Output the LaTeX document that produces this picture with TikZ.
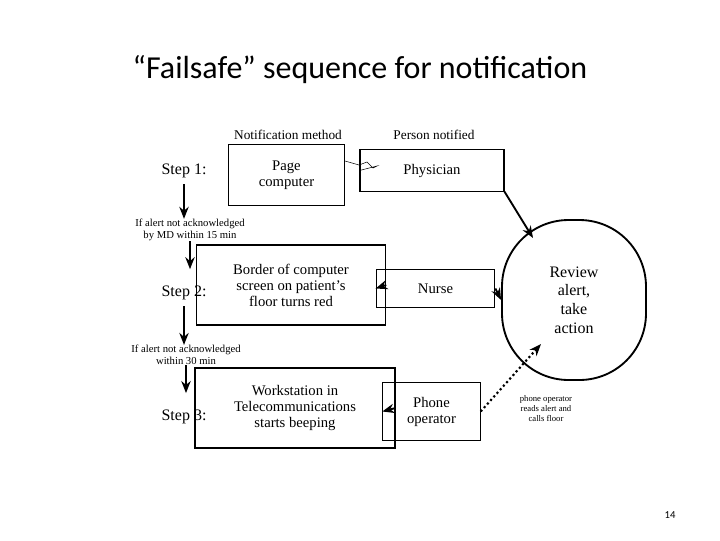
\documentclass[tikz,border=0pt]{standalone}
\usepackage{fontspec}
\setmainfont{Liberation Serif}
\newfontfamily\titlefont{Carlito}
\usetikzlibrary{arrows.meta}
\begin{document}
\begin{tikzpicture}[x=0.75pt,y=-0.75pt,
 box/.style={draw,thick,align=center,inner sep=0pt,font=\fontsize{11}{12}\selectfont},
 lab/.style={align=center,font=\fontsize{8}{9}\selectfont,inner sep=0pt},
 steplab/.style={font=\fontsize{12}{13}\selectfont,inner sep=0pt},
 arr/.style={line width=1.4pt,-{Stealth[length=9pt,width=7pt]}}]
\useasboundingbox (0,0) rectangle (720,540);
\node[font=\titlefont\fontsize{24}{28}\selectfont] (title) at (360,70) {“Failsafe” sequence for notification};
\node[lab,font=\fontsize{10}{11}\selectfont] (h1) at (288,135) {Notification method};
\node[lab,font=\fontsize{10}{11}\selectfont] (h2) at (434,135) {Person notified};
\node[box,minimum width=87,minimum height=46] (pc) at (286.5,175) {Page\\computer};
\node[box,minimum width=108,minimum height=31] (ph) at (432,170.5) {Physician};
\node[box,minimum width=142,minimum height=60] (bd) at (291,285) {Border of computer\\screen on patient’s\\floor turns red};
\node[box,minimum width=89,minimum height=29] (nu) at (435.5,288.5) {Nurse};
\node[box,minimum width=150,minimum height=60] (ws) at (295,408) {Workstation in\\Telecommunications\\starts beeping};
\node[box,minimum width=73,minimum height=43] (po) at (431.5,411.5) {Phone\\operator};
\node[draw,line width=1.4pt,rounded corners=50,minimum width=108,minimum height=120,align=center,inner sep=0pt,font=\fontsize{12}{14}\selectfont] (rv) at (574,300) {Review\\alert,\\take\\action};
\node[steplab] (s1) at (184,171) {Step 1:};
\node[steplab] (s2) at (184,293) {Step 2:};
\node[steplab] (s3) at (184,417) {Step 3:};
\node[lab] (c1) at (190,230) {If alert not acknowledged\\by MD within 15 min};
\node[lab] (c2) at (186,355) {If alert not acknowledged\\within 30 min};
\node[lab,font=\fontsize{6.5}{7.5}\selectfont] (pl) at (546,409) {phone operator\\reads alert and\\calls floor};
\node[font=\titlefont\fontsize{8}{9}\selectfont] (pg) at (670,515) {14};
\draw[arr] (s1.south) ++(0,6) coordinate (a1) -- (a1|-c1.north);
\draw[arr] (c1.south) -- ++(0,28);
\draw[arr] (s2.south) ++(0,6) coordinate (a2) -- (a2|-c2.north);
\draw[arr] (c2.south) -- ++(0,28);
\draw[thin] (pc.east) ++(0,-14) coordinate (z0) -- ++(14,4) -- ++(8,-3) -- ++(6,6) -- ++(4,-2) -- (ph.west);
\draw[arr] (ph.south east) -- (533,238);
\draw[arr] (bd.east) -- (nu.west);
\draw[arr] (nu.east) -- (rv.west);
\draw[arr] (ws.east) -- (po.west);
\draw[line width=1.6pt,dotted,-{Stealth[length=9pt,width=7pt]}] (po.east) -- (541,344);
\end{tikzpicture}
\end{document}
